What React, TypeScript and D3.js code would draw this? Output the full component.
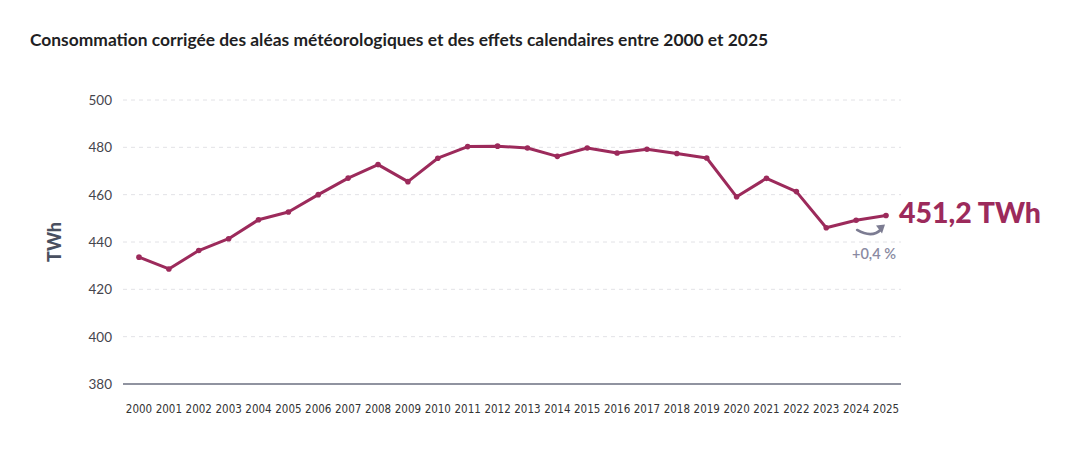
import React from "react";
import * as d3 from "d3";

const years = [2000,2001,2002,2003,2004,2005,2006,2007,2008,2009,2010,2011,2012,2013,2014,2015,2016,2017,2018,2019,2020,2021,2022,2023,2024,2025];
const consumption = [433.6,428.6,436.4,441.4,449.4,452.7,460.0,467.0,472.7,465.5,475.4,480.3,480.5,479.7,476.2,479.7,477.6,479.2,477.4,475.5,459.1,466.9,461.3,446.0,449.2,451.2];
const yTicks = [380,400,420,440,460,480,500];
const title = "Consommation corrigée des aléas météorologiques et des effets calendaires entre 2000 et 2025";
const lastLabel = "451,2 TWh";
const changeLabel = "+0,4 %";
const yAxisLabel = "TWh";

const W = 1090, H = 467;
const LINE = "#9c2a5b";

export default function App() {
  const x = d3.scalePoint<number>().domain(years).range([139, 886]);
  const y = d3.scaleLinear().domain([380, 500]).range([384, 100]);
  const line = d3.line<number>().x((_, i) => x(years[i])!).y(d => y(d));
  const n = years.length;
  const xLast = x(years[n - 1])!;
  const xPrev = x(years[n - 2])!;
  const yLast = y(consumption[n - 1]);
  return (
    <svg width={W} height={H} style={{ position: "absolute", left: 0, top: 0, background: "#fff" }}>
      <text x={30} y={46} fontFamily="Lato, 'Open Sans', sans-serif" fontWeight={700} fontSize={17.4} fill="#1f1f24">{title}</text>
      {yTicks.map(t => (
        <g key={t}>
          {t !== 380 && <line x1={123} x2={901} y1={y(t)} y2={y(t)} stroke="#e2e2e6" strokeDasharray="4,4" strokeWidth={1} />}
          <text x={112} y={y(t) + 5} textAnchor="end" fontFamily="Lato, sans-serif" fontSize={13.5} fill="#45454d">{t}</text>
        </g>
      ))}
      <line x1={123} x2={901} y1={y(380)} y2={y(380)} stroke="#6b6f80" strokeWidth={1.3} />
      {years.map(yr => (
        <text key={yr} x={x(yr)!} y={413} textAnchor="middle" fontFamily="'DejaVu Sans Condensed', 'DejaVu Sans', sans-serif" fontStretch="condensed" fontSize={11.5} fill="#333">{yr}</text>
      ))}
      <text transform={`translate(61,242) rotate(-90)`} textAnchor="middle" fontFamily="Lato, sans-serif" fontWeight={900} fontSize={18} fill="#4a5060">{yAxisLabel}</text>
      <path d={line(consumption) || ""} fill="none" stroke={LINE} strokeWidth={3} strokeLinejoin="round" />
      {consumption.map((v, i) => (
        <circle key={i} cx={x(years[i])!} cy={y(v)} r={2.8} fill={LINE} />
      ))}
      <text x={899} y={yLast + 7.5} fontFamily="Lato, sans-serif" fontWeight={900} fontSize={28.5} fill={LINE}>{lastLabel}</text>
      <path d={`M${xPrev + 1},${yLast + 14.5} Q${(xPrev + xLast) / 2 + 1},${yLast + 23} ${xLast - 5},${yLast + 14}`} fill="none" stroke="#7c7c92" strokeWidth={2.6} strokeLinecap="round" />
      <path d={`M${xLast - 10},${yLast + 10} L${xLast - 1},${yLast + 9} L${xLast - 4},${yLast + 18} Z`} fill="#7c7c92" />
      <text x={xLast + 10} y={yLast + 44} textAnchor="end" fontFamily="Lato, sans-serif" fontWeight={600} fontSize={14.5} fill="#8a8aa2">{changeLabel}</text>
    </svg>
  );
}
